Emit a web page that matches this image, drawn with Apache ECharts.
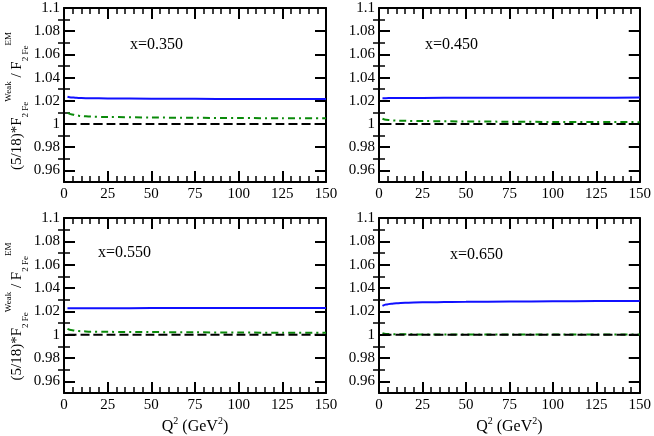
<!DOCTYPE html>
<html lang="en">
<head>
  <meta charset="UTF-8">
  <title>F2 Fe weak / EM ratio</title>
  <script src="https://cdn.jsdelivr.net/npm/echarts/dist/echarts.min.js"></script>
  <style>
    html, body { margin: 0; padding: 0; background: #fff; }
    #main { width: 654px; height: 436px; }
  </style>
</head>
<body>
<div id="main"></div>
<script>
  const chart = echarts.init(document.getElementById('main'));

  // Q^2 sample points (GeV^2)
  const q2 = [2, 4, 7, 10, 15, 25, 50, 75, 100, 125, 150];

  const panelLabels = ['x=0.350', 'x=0.450', 'x=0.550', 'x=0.650'];

  // solid blue curves
  const solid035 = [1.0235, 1.0229, 1.0226, 1.0224, 1.0222, 1.0220, 1.0218, 1.0217, 1.0216, 1.0215, 1.0215];
  const solid045 = [1.0223, 1.0223, 1.0224, 1.0224, 1.0224, 1.0225, 1.0226, 1.0226, 1.0227, 1.0227, 1.0228];
  const solid055 = [1.0227, 1.0227, 1.0227, 1.0227, 1.0227, 1.0227, 1.0228, 1.0228, 1.0228, 1.0228, 1.0228];
  const solid065 = [1.0246, 1.0258, 1.0266, 1.0270, 1.0273, 1.0277, 1.0282, 1.0284, 1.0286, 1.0288, 1.0289];

  // green dash-dot curves
  const dashDot035 = [1.0097, 1.0085, 1.0074, 1.0068, 1.0064, 1.0060, 1.0056, 1.0053, 1.0051, 1.0050, 1.0049];
  const dashDot045 = [1.0045, 1.0037, 1.0032, 1.0029, 1.0027, 1.0025, 1.0022, 1.0020, 1.0018, 1.0017, 1.0016];
  const dashDot055 = [1.0050, 1.0040, 1.0033, 1.0029, 1.0026, 1.0024, 1.0022, 1.0020, 1.0018, 1.0017, 1.0016];
  const dashDot065 = [1.0012, 1.0006, 1.0004, 1.0003, 1.0003, 1.0002, 1.0002, 1.0001, 1.0001, 1.0001, 1.0001];

  // black dashed reference
  const dashed = [1, 1, 1, 1, 1, 1, 1, 1, 1, 1, 1];

  const yMajor = [0.96, 0.98, 1, 1.02, 1.04, 1.06, 1.08, 1.1];
  const yMinor = [0.97, 0.99, 1.01, 1.03, 1.05, 1.07, 1.09];

  const solids = [solid035, solid045, solid055, solid065];
  const dashDots = [dashDot035, dashDot045, dashDot055, dashDot065];

  const FONT = 'Liberation Serif';
  const grids = [
    { left: 64, top: 8, width: 262, height: 174 },
    { left: 379, top: 8, width: 263, height: 174 },
    { left: 64, top: 218, width: 262, height: 175 },
    { left: 379, top: 218, width: 263, height: 175 }
  ];
  const labelPos = [[130, 37], [425, 37], [98, 245], [450, 247]];

  const line = { color: '#000', width: 2 };
  const xAxes = [];
  const yAxes = [];
  const series = [];

  grids.forEach((g, i) => {
    const bottomRow = i >= 2;
    const leftCol = i % 2 === 0;
    const xBase = {
      gridIndex: i, type: 'value', min: 0, max: 150, interval: 25,
      axisLine: { onZero: false, lineStyle: line },
      axisTick: { inside: true, length: 11, lineStyle: line },
      minorTick: { show: true, splitNumber: 5, length: 6, lineStyle: { color: '#000', width: 1.5 } },
      splitLine: { show: false }
    };
    xAxes.push(Object.assign({}, xBase, {
      position: 'bottom',
      axisLabel: { fontFamily: FONT, fontSize: 15, color: '#000', margin: 5 },
      name: bottomRow ? '{m|Q}{sup|2}{m| (GeV}{sup|2}{m|)}' : '',
      nameLocation: 'middle',
      nameGap: 23,
      nameTextStyle: {
        fontFamily: FONT, color: '#000',
        rich: {
          m: { fontFamily: FONT, fontSize: 16, lineHeight: 22, color: '#000' },
          sup: { fontFamily: FONT, fontSize: 10, lineHeight: 12, verticalAlign: 'top', color: '#000' }
        }
      }
    }));
    xAxes.push(Object.assign({}, xBase, { position: 'top', axisLabel: { show: false } }));

    const yBase = {
      gridIndex: i, type: 'value', min: 0.95, max: 1.1,
      splitLine: { show: false }
    };
    yAxes.push(Object.assign({}, yBase, {
      position: 'left',
      axisLine: { onZero: false, lineStyle: line },
      axisTick: { inside: true, length: 11, lineStyle: line, customValues: yMajor },
      axisLabel: {
        fontFamily: FONT, fontSize: 15, color: '#000', margin: 4,
        customValues: yMajor,
        formatter: v => String(+v.toFixed(2))
      },
      name: leftCol ? '{m|(5/18)*F}{sub|2 Fe}{sup|Weak}{m| / F}{sub|2 Fe}{sup|EM}' : '',
      nameLocation: 'middle',
      nameRotate: 90,
      nameGap: 34,
      nameTextStyle: {
        fontFamily: FONT, color: '#000',
        padding: [0, 12, 0, 0],
        rich: {
          m: { fontFamily: FONT, fontSize: 15, lineHeight: 26, color: '#000' },
          sub: { fontFamily: FONT, fontSize: 9, lineHeight: 10, verticalAlign: 'bottom', color: '#000' },
          sup: { fontFamily: FONT, fontSize: 9, lineHeight: 10, verticalAlign: 'top', color: '#000' }
        }
      }
    }));
    yAxes.push(Object.assign({}, yBase, {
      position: 'left',
      axisLine: { show: false },
      axisTick: { inside: true, length: 6, lineStyle: { color: '#000', width: 1.5 }, customValues: yMinor },
      axisLabel: { show: false }
    }));
    yAxes.push(Object.assign({}, yBase, {
      position: 'right',
      axisLine: { onZero: false, lineStyle: line },
      axisTick: { inside: true, length: 11, lineStyle: line, customValues: yMajor },
      axisLabel: { show: false }
    }));
    yAxes.push(Object.assign({}, yBase, {
      position: 'right',
      axisLine: { show: false },
      axisTick: { inside: true, length: 6, lineStyle: { color: '#000', width: 1.5 }, customValues: yMinor },
      axisLabel: { show: false }
    }));

    const common = {
      type: 'line', xAxisIndex: 2 * i, yAxisIndex: 4 * i,
      showSymbol: false, symbol: 'none', silent: true,
      smooth: 0.3, smoothMonotone: 'x'
    };
    series.push(Object.assign({}, common, {
      data: q2.map((q, j) => [q, solids[i][j]]),
      lineStyle: { color: '#1010ff', width: 2 }
    }));
    series.push(Object.assign({}, common, {
      data: q2.map((q, j) => [q, dashDots[i][j]]),
      lineStyle: { color: '#0a8a0a', width: 2, type: [7, 4, 2, 4] }
    }));
    series.push(Object.assign({}, common, {
      data: q2.map((q, j) => [q, dashed[j]]),
      lineStyle: { color: '#000', width: 2, type: [9, 4] }
    }));
  });

  chart.setOption({
    animation: false,
    title: panelLabels.map((t, i) => ({
      text: t, left: labelPos[i][0], top: labelPos[i][1], padding: 0,
      textStyle: { fontFamily: FONT, fontSize: 16, fontWeight: 'normal', color: '#000' }
    })),
    grid: grids,
    xAxis: xAxes,
    yAxis: yAxes,
    series: series
  });
</script>
</body>
</html>
